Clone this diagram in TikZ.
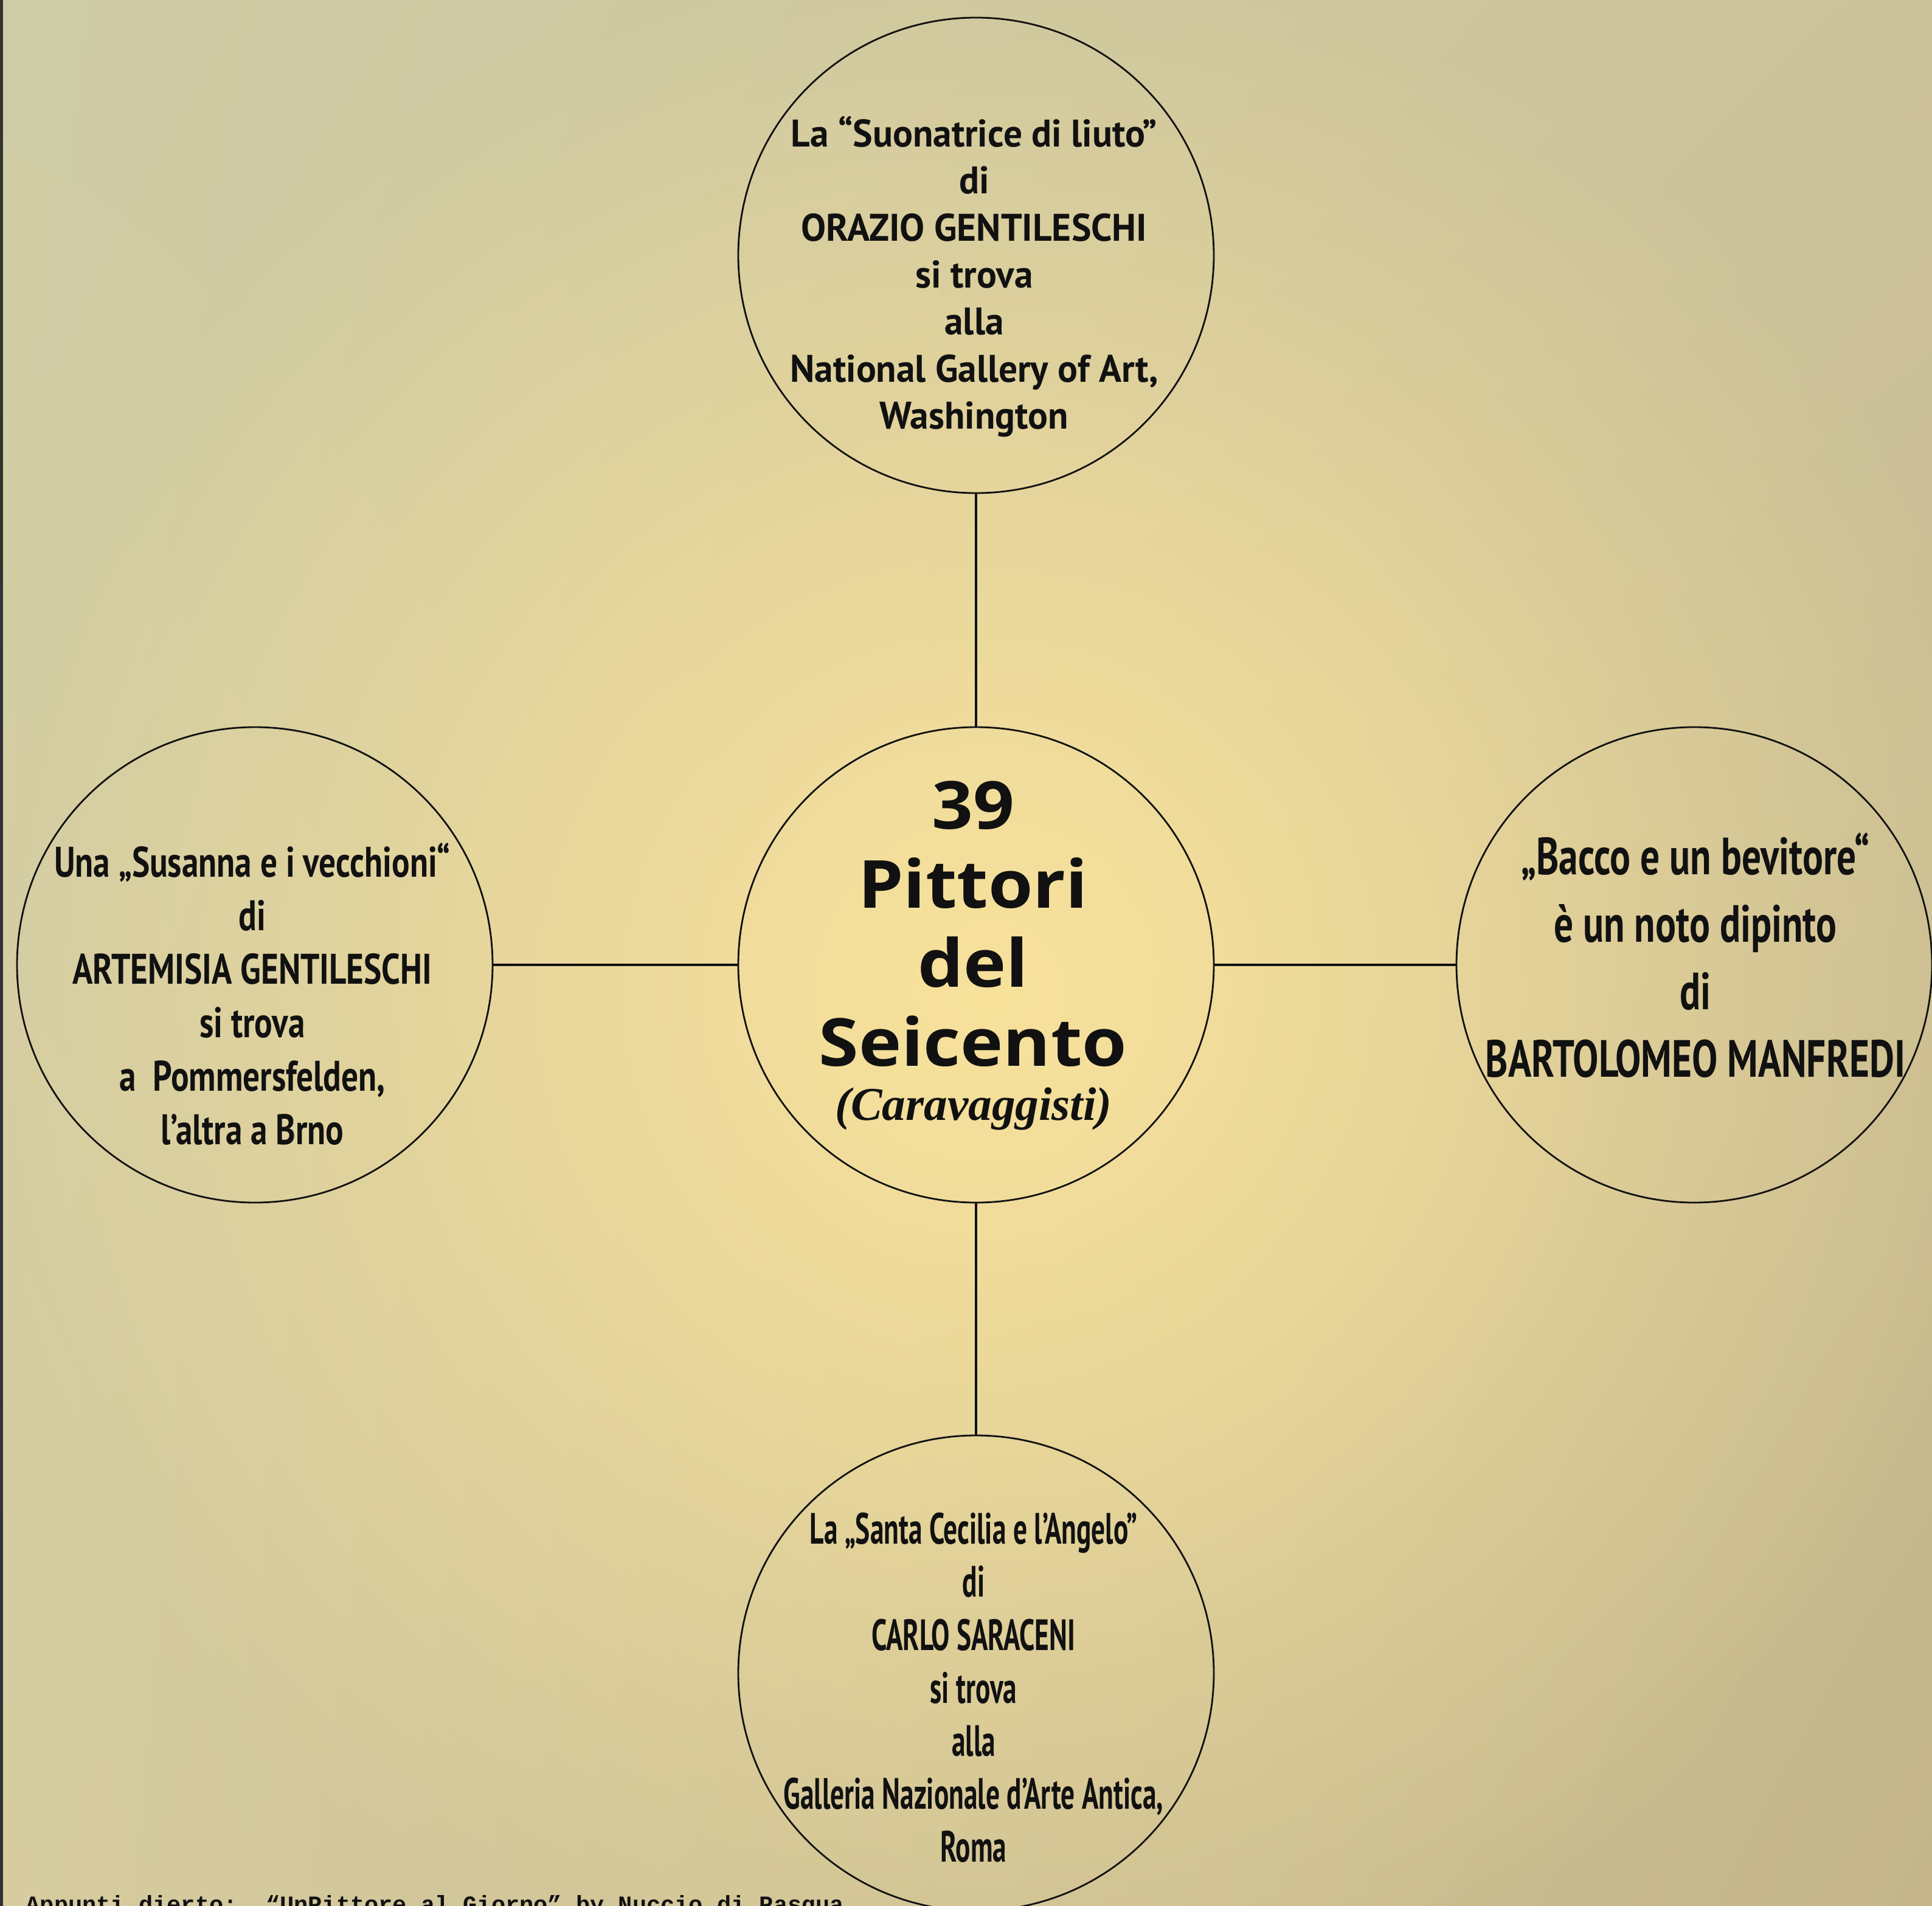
\documentclass[tikz,border=0pt]{standalone}
\usepackage{fontspec}
\usetikzlibrary{fadings,shadings}
\newfontfamily\topfont{PT Sans}[FakeStretch=0.97]
\newfontfamily\leftfont{PT Sans}[FakeStretch=0.785]
\newfontfamily\rightfont{PT Sans}[FakeStretch=0.735]
\newfontfamily\botfont{PT Sans}[FakeStretch=0.63]
\newfontfamily\centfont{Open Sans}[FakeStretch=1.09]
\newfontfamily\carfont{Liberation Serif}
\newfontfamily\notefont{Liberation Mono}
\definecolor{bgUL}{RGB}{207,205,166}
\definecolor{bgUR}{RGB}{204,194,154}
\definecolor{bgLL}{RGB}{214,204,160}
\definecolor{bgLR}{RGB}{196,182,138}
\definecolor{glowcol}{RGB}{248,226,156}
\definecolor{ink}{RGB}{17,17,17}
\tikzfading[name=glowfade, inner color=transparent!0, outer color=transparent!100]
\tikzset{
  bubble/.style={circle, draw=ink, line width=0.8pt, minimum size=7.82cm, inner sep=0pt},
  link/.style={draw=ink, line width=1.1pt},
  label/.style={align=center, text=ink, inner sep=0pt},
}
\begin{document}
\begin{tikzpicture}
\clip (0,0) rectangle (31.77,-31.35);
\shade[upper left=bgUL, upper right=bgUR, lower left=bgLL, lower right=bgLR] (0,-31.35) rectangle (31.77,0);
\fill[glowcol, path fading=glowfade] (16.3,-16.3) circle (17.5);
\fill[glowcol, opacity=0.4, path fading=glowfade] (16.3,-16.3) circle (11);
\draw[line width=0.05cm, black!80] (0.02,0) -- (0.02,-31.35);

\node[bubble] (c) at (16.05,-15.87) {};
\node[bubble] (t) at (16.05,-4.20) {};
\node[bubble] (l) at (4.19,-15.87) {};
\node[bubble] (r) at (27.86,-15.87) {};
\node[bubble] (b) at (16.05,-27.52) {};

\draw[link] (t) -- (c);
\draw[link] (c) -- (b);
\draw[link] (l) -- (c);
\draw[link] (c) -- (r);

\node[label, font=\topfont\bfseries\fontsize{18}{22}\selectfont] (tt) at (16.02,-4.55)
 {La “Suonatrice di liuto”\\di\\ORAZIO GENTILESCHI\\si trova\\alla\\National Gallery of Art,\\Washington};

\node[label, font=\leftfont\bfseries\fontsize{20}{25}\selectfont] (lt) at (4.15,-16.35)
 {Una „Susanna e i vecchioni“\\di\\ARTEMISIA GENTILESCHI\\si trova\\a\ \ Pommersfelden,\\l’altra a Brno};

\node[label, font=\rightfont\bfseries\fontsize{24.5}{31.6}\selectfont] (rt) at (27.88,-15.71)
 {„Bacco e un bevitore“\\è un noto dipinto\\di\\BARTOLOMEO MANFREDI};

\node[label, font=\botfont\bfseries\fontsize{20.5}{24.8}\selectfont] (bt) at (16.01,-27.76)
 {La „Santa Cecilia e l’Angelo”\\di\\CARLO SARACENI\\si trova\\alla\\Galleria Nazionale d’Arte Antica,\\Roma};

\node[label, font=\centfont\bfseries\fontsize{31}{37}\selectfont] (ct) at (16.00,-15.20)
 {39\\Pittori\\del\\Seicento};
\node[label, font=\carfont\bfseries\itshape\fontsize{22}{26}\selectfont] (cara) at (16.01,-18.24)
 {(Caravaggisti)};

\node[anchor=base west, inner sep=0pt, text=ink, font=\notefont\bfseries\fontsize{11}{12}\selectfont] (note) at (0.42,-31.45)
 {Appunti dierto:\ \ “UnPittore al Giorno” by Nuccio di Pasqua};
\end{tikzpicture}
\end{document}
